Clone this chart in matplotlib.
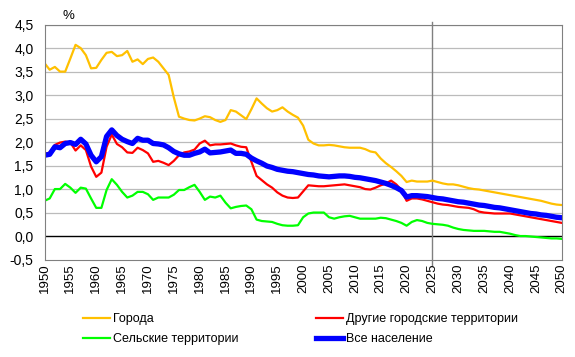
import matplotlib

matplotlib.use("Agg")
import matplotlib.pyplot as plt
import numpy as np

plt.rcParams["font.family"] = ["Liberation Sans", "DejaVu Sans"]
plt.rcParams["font.size"] = 9.5

years = np.arange(1950, 2051)

# Города
cities = [
    3.68, 3.54, 3.60, 3.50, 3.50, 3.78, 4.07, 4.00, 3.85, 3.57,
    3.58, 3.75, 3.90, 3.92, 3.83, 3.85, 3.94, 3.71, 3.76, 3.66,
    3.77, 3.80, 3.71, 3.57, 3.43, 2.95, 2.54, 2.50, 2.47, 2.46,
    2.50, 2.55, 2.53, 2.47, 2.43, 2.47, 2.68, 2.65, 2.57, 2.49,
    2.70, 2.93, 2.82, 2.72, 2.65, 2.68, 2.74, 2.65, 2.58, 2.52,
    2.35, 2.05, 1.97, 1.93, 1.93, 1.94, 1.93, 1.91, 1.89, 1.88,
    1.88, 1.88, 1.85, 1.80, 1.78, 1.65, 1.55, 1.47, 1.38, 1.28,
    1.15, 1.18, 1.16, 1.16, 1.16, 1.18, 1.15, 1.12, 1.10, 1.10,
    1.08, 1.05, 1.02, 1.00, 0.99, 0.97, 0.95, 0.93, 0.91, 0.89,
    0.87, 0.85, 0.83, 0.81, 0.79, 0.77, 0.75, 0.72, 0.69, 0.67,
    0.66,
]

# Другие городские территории
other_urban = [
    1.74, 1.78, 1.94, 1.99, 2.01, 1.99, 1.82, 1.93, 1.83, 1.48,
    1.26, 1.35, 1.90, 2.16, 1.96, 1.89, 1.78, 1.77, 1.88, 1.83,
    1.76, 1.58, 1.60, 1.56, 1.51, 1.60, 1.72, 1.78, 1.80, 1.84,
    1.97, 2.03, 1.93, 1.95, 1.95, 1.96, 1.97, 1.93, 1.90, 1.89,
    1.58, 1.28, 1.19, 1.10, 1.03, 0.93, 0.86, 0.82, 0.81, 0.82,
    0.95, 1.08, 1.07, 1.06, 1.06, 1.07, 1.08, 1.09, 1.10, 1.08,
    1.06, 1.04, 1.00, 0.99, 1.03, 1.08, 1.12, 1.18, 1.10, 0.98,
    0.75, 0.80, 0.80, 0.78, 0.75, 0.72, 0.69, 0.67, 0.66, 0.64,
    0.62, 0.61, 0.60, 0.57, 0.52, 0.50, 0.49, 0.48, 0.48, 0.48,
    0.48, 0.46, 0.44, 0.42, 0.40, 0.38, 0.36, 0.34, 0.32, 0.30,
    0.28,
]

# Сельские территории
rural = [
    0.75, 0.80, 1.00, 1.00, 1.11, 1.03, 0.92, 1.03, 1.01, 0.80,
    0.60, 0.60, 0.98, 1.21, 1.09, 0.94, 0.82, 0.86, 0.94, 0.94,
    0.89, 0.77, 0.82, 0.82, 0.82, 0.88, 0.98, 0.98, 1.04, 1.09,
    0.94, 0.77, 0.84, 0.82, 0.86, 0.71, 0.59, 0.62, 0.64, 0.65,
    0.57, 0.35, 0.32, 0.31, 0.30, 0.26, 0.23, 0.22, 0.22, 0.23,
    0.40, 0.48, 0.50, 0.50, 0.50, 0.40, 0.37, 0.40, 0.42, 0.43,
    0.40, 0.37, 0.37, 0.37, 0.37, 0.39, 0.38, 0.35, 0.32, 0.28,
    0.22, 0.30, 0.34, 0.32, 0.28, 0.26, 0.25, 0.24, 0.22, 0.18,
    0.15, 0.13, 0.12, 0.11, 0.11, 0.11, 0.10, 0.09, 0.09, 0.07,
    0.05, 0.02, 0.00, 0.00, -0.01, -0.02, -0.03, -0.04, -0.05, -0.05,
    -0.06,
]

# Все население
total = [
    1.72, 1.74, 1.90, 1.88, 1.97, 1.99, 1.95, 2.06, 1.96, 1.72,
    1.58, 1.69, 2.12, 2.26, 2.14, 2.06, 2.01, 1.97, 2.08, 2.04,
    2.04, 1.97, 1.96, 1.94, 1.88, 1.80, 1.75, 1.72, 1.72, 1.76,
    1.79, 1.85, 1.77, 1.78, 1.79, 1.81, 1.83, 1.76, 1.76, 1.74,
    1.66, 1.60, 1.55, 1.49, 1.46, 1.42, 1.40, 1.38, 1.37, 1.35,
    1.33, 1.31, 1.30, 1.28, 1.27, 1.26, 1.27, 1.28, 1.28, 1.27,
    1.25, 1.24, 1.22, 1.20, 1.18, 1.15, 1.12, 1.08, 1.03, 0.97,
    0.83, 0.86, 0.86, 0.85, 0.84, 0.82, 0.80, 0.79, 0.77, 0.75,
    0.73, 0.72, 0.70, 0.68, 0.66, 0.65, 0.63, 0.61, 0.60, 0.58,
    0.56, 0.54, 0.52, 0.50, 0.48, 0.47, 0.45, 0.44, 0.42, 0.40,
    0.39,
]

fig = plt.figure(figsize=(5.75, 3.57), dpi=100)
ax = fig.add_axes([0.0774, 0.273, 0.8996, 0.658])

ax.plot(years, cities, color="#FFC000", lw=1.6, label="Города")
ax.plot(years, other_urban, color="#FF0000", lw=1.6,
        label="Другие городские территории")
ax.plot(years, rural, color="#00FF00", lw=1.6, label="Сельские территории")
ax.plot(years, total, color="#0000FF", lw=3.8, label="Все население")

ax.set_xlim(1950, 2050)
ax.set_ylim(-0.5, 4.5)
yt = np.arange(-0.5, 4.51, 0.5)
ax.set_yticks(yt)
ax.set_yticklabels([f"{v:.1f}".replace(".", ",") for v in yt])
xt = np.arange(1950, 2051, 5)
ax.set_xticks(xt)
ax.set_xticklabels([str(v) for v in xt], rotation=90)
ax.tick_params(length=0, pad=3)
ax.tick_params(axis="y", labelsize=10, pad=8)

for v in yt[1:]:
    if v != 0:
        ax.axhline(v, color="#BBBBBB", lw=0.9, zorder=0)
ax.axhline(0, color="black", lw=1.0, zorder=0.5)
ax.plot([2025, 2025], [-0.62, 4.55], color="#808080", lw=1.0,
        clip_on=False, zorder=0.6)

for s in ax.spines.values():
    s.set_color("#808080")

fig.text(0.108, 0.955, "%", fontsize=9.5, ha="left", va="center")

handles, labels = ax.get_legend_handles_labels()
order = [0, 2, 1, 3]
fig.legend([handles[i] for i in order], [labels[i] for i in order],
           ncol=2, loc="upper left", bbox_to_anchor=(0.144, 0.122),
           frameon=False, handlelength=2.15, handletextpad=0.25,
           columnspacing=6.2, labelspacing=0.6, borderaxespad=0,
           borderpad=0, fontsize=9)

fig.savefig("out.png", dpi=100)
